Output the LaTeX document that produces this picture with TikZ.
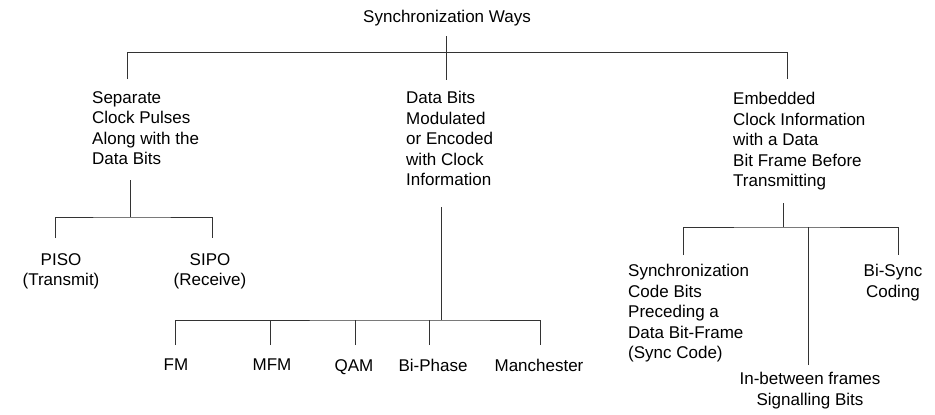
\documentclass[tikz,border=0pt]{standalone}
\usepackage{fontspec}
\setmainfont{Liberation Sans}
\begin{document}
\begin{tikzpicture}[x=1pt,y=-1pt,
  lbl/.style={inner sep=0pt, font=\fontsize{17}{20.6}\selectfont, text=black},
  conn/.style={line width=0.9pt, draw=black!80}]
\useasboundingbox (0,0) rectangle (935,415);
% texts
\node[lbl, anchor=center] (root) at (447,18) {Synchronization Ways};
\node[lbl, align=left, anchor=north west] (sep) at (92,91) {Separate\\Clock Pulses\\Along with the\\Data Bits};
\node[lbl, align=left, anchor=north west] (mod) at (406,91) {Data Bits\\Modulated\\or Encoded\\with Clock\\Information};
\node[lbl, align=left, anchor=north west] (emb) at (733,92) {Embedded\\Clock Information\\with a Data\\Bit Frame Before\\Transmitting};
\node[lbl, align=center, anchor=north] (piso) at (61,253) {PISO\\(Transmit)};
\node[lbl, align=center, anchor=north] (sipo) at (210,253) {SIPO\\(Receive)};
\node[lbl, anchor=north] (fm) at (176,359) {FM};
\node[lbl, anchor=north] (mfm) at (272,359) {MFM};
\node[lbl, anchor=north] (qam) at (354,359) {QAM};
\node[lbl, anchor=north] (biph) at (433,359) {Bi-Phase};
\node[lbl, anchor=north] (manc) at (539,359) {Manchester};
\node[lbl, align=left, anchor=north west] (sync) at (628,264) {Synchronization\\Code Bits\\Preceding a\\Data Bit-Frame\\(Sync Code)};
\node[lbl, align=center, anchor=north] (bisync) at (893,264) {Bi-Sync\\Coding};
\node[lbl, align=center, anchor=north] (inbt) at (810,372) {In-between frames\\Signalling Bits};
% level 1 connectors
\coordinate (r0) at (446,36);
\coordinate (d1L) at (127,79);
\coordinate (d1M) at (446,80);
\coordinate (d1R) at (787,79);
\coordinate (h1R) at (787,52);
\draw[conn] (r0) -- (d1M);
\draw[conn] (d1L) |- (h1R) -- (d1R);
% left subtree
\coordinate (s0) at (130,180);
\coordinate (s1) at (130,217);
\coordinate (dP) at (55,238);
\coordinate (dS) at (212,238);
\draw[conn] (s0) -- (s1);
\draw[conn] (dP) |- (s1) -| (dS);
% middle subtree
\coordinate (m0) at (441,207);
\coordinate (m1) at (441,320);
\coordinate (dFM) at (175,345);
\coordinate (dMFM) at (270,345);
\coordinate (dQAM) at (355,345);
\coordinate (dBP) at (429,345);
\coordinate (dMan) at (540,345);
\draw[conn] (m0) -- (m1);
\draw[conn] (dFM) |- (m1) -| (dMan);
\draw[conn] (dMFM) -- (dMFM |- m1);
\draw[conn] (dQAM) -- (dQAM |- m1);
\draw[conn] (dBP) -- (dBP |- m1);
% right subtree
\coordinate (e0) at (783,203);
\coordinate (e1) at (783,227);
\coordinate (dSy) at (683,255);
\coordinate (dBi) at (898,255);
\coordinate (dIn) at (808,365);
\draw[conn] (e0) -- (e1);
\draw[conn] (dSy) |- (e1) -| (dBi);
\draw[conn] (dIn) -- (dIn |- e1);
\end{tikzpicture}
\end{document}
